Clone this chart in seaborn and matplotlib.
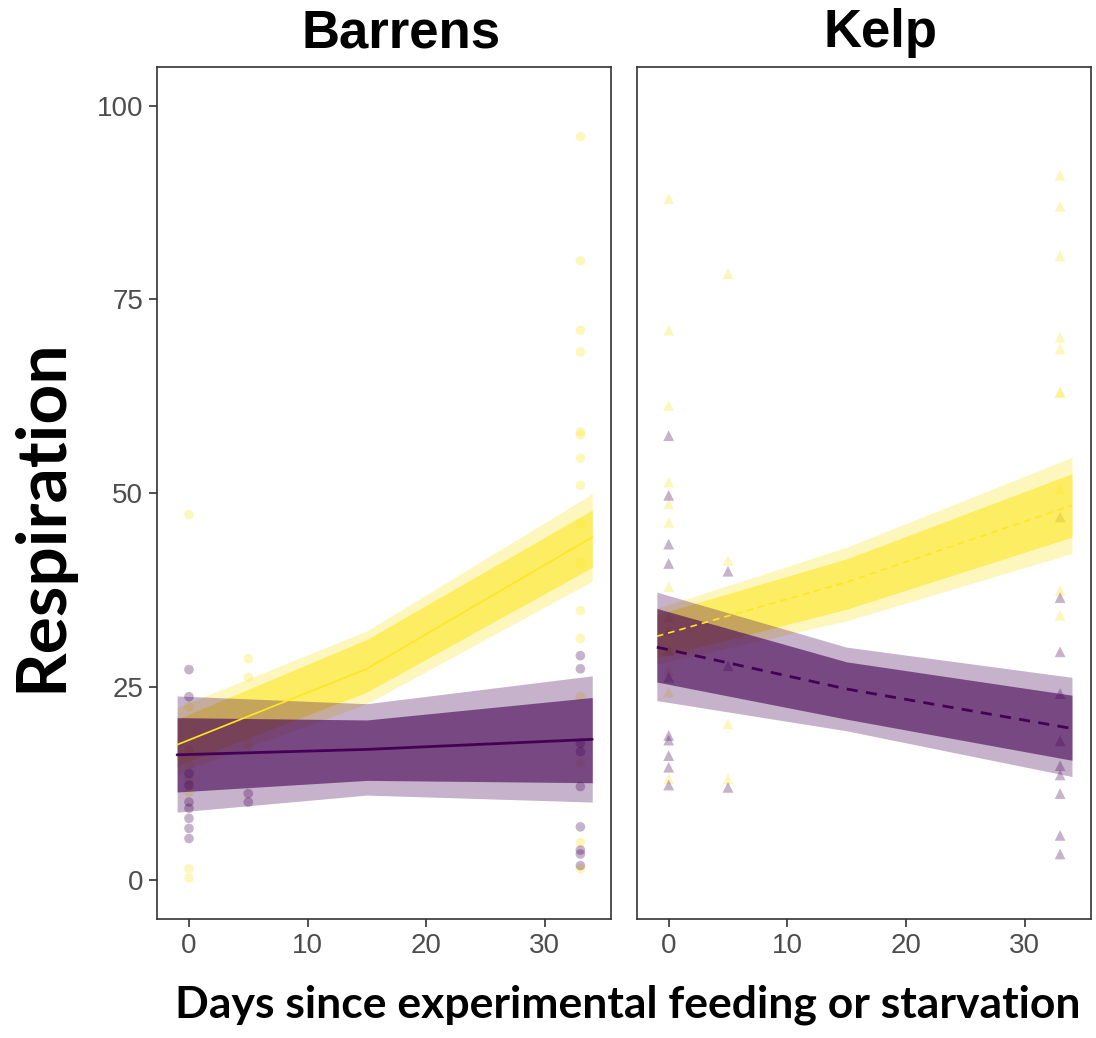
import pandas as pd
import matplotlib.pyplot as plt
import seaborn as sns

sns.set_style("white")
plt.rcParams['font.family'] = ['Liberation Sans', 'DejaVu Sans']

barrens_fed = {0: [47.2, 22.4, 20.0, 18.7, 15.1, 12.9, 11.4, 1.5, 0.3],
               5: [28.6, 26.2, 21.0, 18.5, 17.4],
               33: [96.0, 80.0, 71.0, 68.2, 57.9, 57.5, 54.5, 51.0, 46.0, 40.9,
                    34.8, 31.2, 23.7, 15.1, 4.9, 1.5]}
barrens_starved = {0: [27.2, 23.7, 16.8, 13.8, 12.3, 10.1, 9.3, 8.0, 6.7, 5.4],
                   5: [11.2, 10.1],
                   33: [29.0, 27.3, 17.7, 16.6, 12.1, 6.9, 3.9, 3.4, 1.9]}
kelp_fed = {0: [88.0, 71.0, 61.3, 51.4, 48.6, 46.2, 37.9, 31.4, 27.1, 24.3, 13.1],
            5: [78.3, 41.3, 20.2, 13.1],
            33: [91.0, 87.0, 80.6, 70.1, 68.6, 63.0, 63.0, 50.5, 37.4, 34.2]}
kelp_starved = {0: [57.4, 49.7, 43.4, 40.9, 34.0, 32.3, 29.7, 26.2, 18.7, 18.1,
                    16.1, 14.6, 12.3],
                5: [39.9, 27.7, 12.0],
                33: [46.9, 36.5, 29.5, 24.1, 18.0, 14.8, 13.6, 11.2, 5.8, 3.4]}

# model predictions with two confidence bands
pred_days = [-1, 15, 34]
barrens_fed_fit = [17.5, 27.3, 44.3]
barrens_fed_outer = ([13.8, 22.8, 38.6], [22.3, 32.2, 49.9])
barrens_fed_inner = ([14.8, 24.3, 40.4], [20.8, 31.1, 47.8])
barrens_starved_fit = [16.2, 16.9, 18.2]
barrens_starved_outer = ([8.8, 11.0, 10.1], [23.8, 22.8, 26.4])
barrens_starved_inner = ([11.4, 12.9, 12.6], [21.0, 20.7, 23.6])
kelp_fed_fit = [31.5, 38.5, 48.4]
kelp_fed_outer = ([27.9, 33.5, 42.2], [35.1, 43.0, 54.6])
kelp_fed_inner = ([28.7, 35.0, 44.3], [34.3, 41.5, 52.5])
kelp_starved_fit = [30.1, 24.7, 19.6]
kelp_starved_outer = ([23.2, 19.3, 13.4], [37.2, 30.1, 26.2])
kelp_starved_inner = ([25.6, 20.8, 15.5], [35.1, 28.2, 23.9])

pal = {"fed": "#FDE725", "starved": "#440154"}


def to_long(fed, starved):
    rows = []
    for trt, d in [("fed", fed), ("starved", starved)]:
        for day, vals in d.items():
            rows += [(day, v, trt) for v in vals]
    return pd.DataFrame(rows, columns=["day", "resp", "treatment"])


panels = [
    ("Barrens", "o", "-", to_long(barrens_fed, barrens_starved),
     [("fed", barrens_fed_fit, barrens_fed_outer, barrens_fed_inner),
      ("starved", barrens_starved_fit, barrens_starved_outer, barrens_starved_inner)]),
    ("Kelp", "^", (0, (4, 3)), to_long(kelp_fed, kelp_starved),
     [("fed", kelp_fed_fit, kelp_fed_outer, kelp_fed_inner),
      ("starved", kelp_starved_fit, kelp_starved_outer, kelp_starved_inner)]),
]

fig, axes = plt.subplots(1, 2, figsize=(10.96, 10.38), dpi=100, sharey=True)
fig.subplots_adjust(left=0.1432, right=0.9954, top=0.9355, bottom=0.1146, wspace=0.056)

for ax, (title, marker, ls, pts, fits) in zip(axes, panels):
    sns.scatterplot(data=pts, x="day", y="resp", hue="treatment", palette=pal,
                    marker=marker, s=60 if marker == "^" else 48, alpha=0.3,
                    linewidth=0, legend=False, ax=ax, zorder=1)
    for trt, fit, outer, inner in fits:
        ax.fill_between(pred_days, outer[0], outer[1], color=pal[trt], alpha=0.3, lw=0, zorder=2)
        ax.fill_between(pred_days, inner[0], inner[1], color=pal[trt], alpha=0.6, lw=0, zorder=2)
    for trt, fit, outer, inner in fits:
        line = pd.DataFrame({"day": pred_days, "fit": fit})
        sns.lineplot(data=line, x="day", y="fit", color=pal[trt],
                     lw=2 if trt == "starved" else 1.2, linestyle=ls, ax=ax, zorder=3)

    ax.set_xlim(-2.7, 35.6)
    ax.set_ylim(-5, 105)
    ax.set_xticks([0, 10, 20, 30])
    ax.set_yticks([0, 25, 50, 75, 100])
    ax.text(0.537, 1.010, title, transform=ax.transAxes, ha="center", va="bottom",
            fontsize=38, fontweight="bold", color="black")
    ax.set_xlabel("")
    ax.set_ylabel("")
    for sp in ax.spines.values():
        sp.set_color("#333333")
        sp.set_linewidth(1.2)
    ax.tick_params(axis="both", direction="out", length=6, width=1.2, color="#333333",
                   labelsize=20, labelcolor="#4D4D4D", pad=4, left=True, bottom=True)

axes[1].tick_params(axis="y", left=False)

fig.text(0.5725, 0.032, "Days since experimental feeding or starvation",
         ha="center", va="center", fontsize=32, fontweight="bold", color="black",
         family=["Lato", "DejaVu Sans"])
fig.text(0.038, 0.504, "Respiration", rotation=90, ha="center", va="center",
         fontsize=50, fontweight="bold", color="black", family=["Lato", "DejaVu Sans"])

fig.savefig("out.png", dpi=100)
